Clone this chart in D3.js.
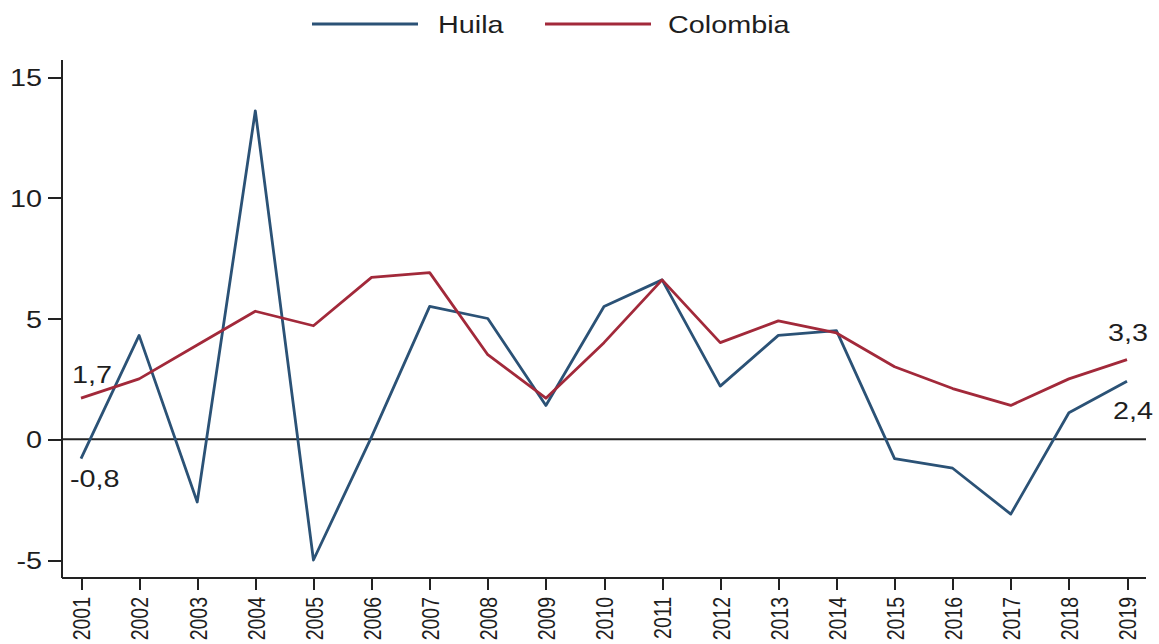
<!DOCTYPE html>
<html lang="es">
<head>
    <meta charset="UTF-8">
    <title>Huila vs Colombia</title>
    <style>
        body {
            margin: 0;
            background: #fff;
            font-family: Arial, "Liberation Sans", sans-serif;
        }
        .axis path, .axis line {
            stroke: #222;
            stroke-width: 2;
            shape-rendering: crispEdges;
        }
        .axis text {
            fill: #1e1e1e;
        }
    </style>
</head>
<body>
<svg width="1159" height="644" id="chart"></svg>

<script src="https://d3js.org/d3.v7.min.js"></script>
<script>
    const years = [2001, 2002, 2003, 2004, 2005, 2006, 2007, 2008, 2009, 2010,
                   2011, 2012, 2013, 2014, 2015, 2016, 2017, 2018, 2019];
    const huila = [-0.8, 4.3, -2.6, 13.6, -5.0, 0.1, 5.5, 5.0, 1.4, 5.5,
                   6.6, 2.2, 4.3, 4.5, -0.8, -1.2, -3.1, 1.1, 2.4];
    const colombia = [1.7, 2.5, 3.9, 5.3, 4.7, 6.7, 6.9, 3.5, 1.7, 4.0,
                      6.6, 4.0, 4.9, 4.4, 3.0, 2.1, 1.4, 2.5, 3.3];
    const yTicks = [-5, 0, 5, 10, 15];
    const seriesNames = ["Huila", "Colombia"];
    const colors = ["#2b5276", "#a2293a"];

    const svg = d3.select("#chart");
    const sx = 1.2; // the source text is a bit wider than Arial

    // scales
    const x = d3.scalePoint()
        .domain(years)
        .range([81, 1127]);

    const y = d3.scaleLinear()
        .domain([-5, 15])
        .range([560, 77]);

    // y axis
    svg.append("g")
        .attr("class", "axis")
        .attr("transform", "translate(62,0)")
        .call(d3.axisLeft(y).tickValues(yTicks).tickSize(14).tickFormat(d => String(d)))
        .call(g => g.select(".domain").attr("d", "M0,60V578"))
        .selectAll("text")
        .style("font-size", "24px")
        .attr("x", -20 / sx)
        .attr("dy", "0.36em")
        .attr("transform", `scale(${sx},1)`);

    // x axis
    svg.append("g")
        .attr("class", "axis")
        .attr("transform", "translate(0,578)")
        .call(d3.axisBottom(x).tickSize(12))
        .call(g => g.select(".domain").attr("d", "M62,0H1146"))
        .selectAll("text")
        .style("font-size", "19.5px")
        .attr("transform", "scale(1.25,1) rotate(-90)")
        .attr("text-anchor", "end")
        .attr("x", -19)
        .attr("y", 0)
        .attr("dy", "0.36em");

    // zero line
    svg.append("line")
        .attr("x1", 62)
        .attr("x2", 1146)
        .attr("y1", y(0))
        .attr("y2", y(0))
        .attr("stroke", "#222")
        .attr("stroke-width", 1.8);

    // lines
    const line = d3.line()
        .x((d, i) => x(years[i]))
        .y(d => y(d));

    [huila, colombia].forEach((vals, k) => {
        svg.append("path")
            .datum(vals)
            .attr("fill", "none")
            .attr("stroke", colors[k])
            .attr("stroke-width", 2.8)
            .attr("stroke-linejoin", "round")
            .attr("d", line);
    });

    // end labels
    const fmt = v => v.toFixed(1).replace(".", ",");
    const last = years.length - 1;
    const labels = [
        {v: colombia[0], x: x(years[0]) - 9, y: y(colombia[0]) - 15},
        {v: huila[0], x: x(years[0]) - 11, y: y(huila[0]) + 28},
        {v: colombia[last], x: x(years[last]) - 19, y: y(colombia[last]) - 19},
        {v: huila[last], x: x(years[last]) - 14, y: y(huila[last]) + 38}
    ];
    svg.selectAll("text.lbl")
        .data(labels)
        .enter().append("text")
        .attr("class", "lbl")
        .attr("transform", d => `translate(${d.x},${d.y}) scale(${sx},1)`)
        .style("font-size", "24px")
        .attr("fill", "#1e1e1e")
        .text(d => fmt(d.v));

    // legend
    const legendX = [312, 545];
    const legendTextX = [438, 668];
    seriesNames.forEach((name, k) => {
        svg.append("line")
            .attr("x1", legendX[k])
            .attr("x2", legendX[k] + 106)
            .attr("y1", 24)
            .attr("y2", 24)
            .attr("stroke", colors[k])
            .attr("stroke-width", 2.8);
        svg.append("text")
            .attr("transform", `translate(${legendTextX[k]},24) scale(${sx},1)`)
            .attr("dy", "0.36em")
            .style("font-size", "24px")
            .attr("fill", "#1e1e1e")
            .text(name);
    });
</script>
</body>
</html>
